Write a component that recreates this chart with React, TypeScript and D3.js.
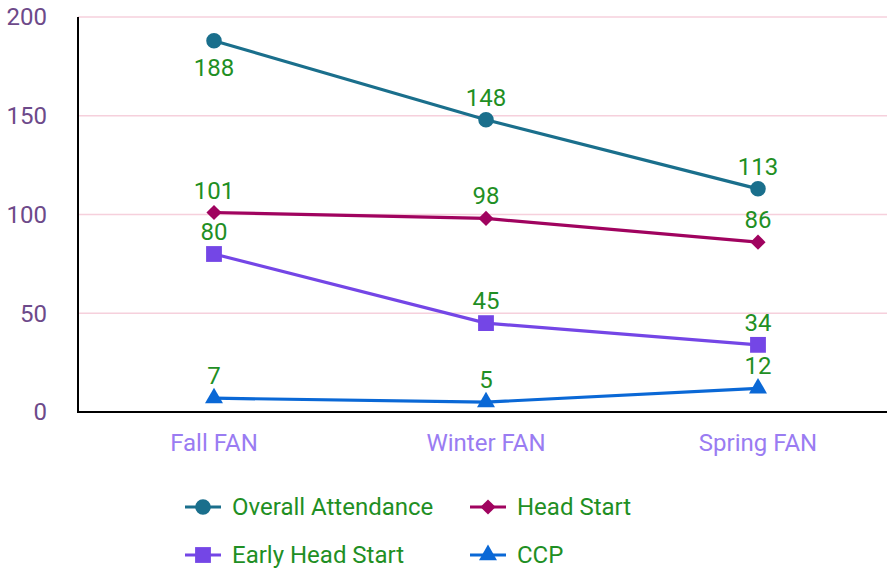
import React from "react";
import * as d3 from "d3";

const categories = ["Fall FAN", "Winter FAN", "Spring FAN"];
const seriesNames = ["Overall Attendance", "Head Start", "Early Head Start", "CCP"];
const overall = [188, 148, 113];
const headStart = [101, 98, 86];
const earlyHeadStart = [80, 45, 34];
const ccp = [7, 5, 12];
const yTicks = [0, 50, 100, 150, 200];

const W = 887, H = 569;
const left = 78, top = 17, bottom = 412;

const colors = ["#1a6f8c", "#a0035f", "#7446e6", "#0a68d6"];
const shapes = [d3.symbolCircle, d3.symbolSquare, d3.symbolSquare, d3.symbolTriangle];
const sizes = [190, 115, 250, 140];
const rotations = [0, 45, 0, 0];
// label placement: below the point or above it
const labelBelow = [[true, false, false], [false, false, false], [false, false, false], [false, false, false]];

export default function App() {
  const x = d3.scalePoint<string>().domain(categories).range([left, 894]).padding(0.5);
  const y = d3.scaleLinear().domain([0, 200]).range([bottom, top]);
  const data = [overall, headStart, earlyHeadStart, ccp];
  const line = d3.line<number>().x((_, i) => x(categories[i])!).y((d) => y(d));
  const font = "Roboto, sans-serif";
  const fs = 24;
  const legendPos = [
    [185, 507], [470, 507], [185, 555], [470, 555],
  ];
  const marker = (s: number, tx: number, ty: number) => (
    <path
      d={d3.symbol().type(shapes[s]).size(sizes[s])()!}
      transform={`translate(${tx},${ty}) rotate(${rotations[s]})`}
      fill={colors[s]}
    />
  );
  return (
    <svg width={W} height={H} style={{ position: "absolute", left: 0, top: 0 }} fontFamily={font}>
      {yTicks.map((t) => (
        <g key={t}>
          {t > 0 && <line x1={left} x2={W} y1={y(t)} y2={y(t)} stroke="#f6d0dc" strokeWidth={1.5} />}
          <text x={47} y={y(t)} dy="0.35em" textAnchor="end" fontSize={fs} fill="#6d4a8a">{t}</text>
        </g>
      ))}
      <line x1={left} x2={left} y1={top} y2={bottom} stroke="#000" strokeWidth={2} />
      <line x1={left - 1} x2={W} y1={bottom} y2={bottom} stroke="#000" strokeWidth={2} />
      {categories.map((c) => (
        <text key={c} x={x(c)} y={451} textAnchor="middle" fontSize={fs} fill="#9a7cf2">{c}</text>
      ))}
      {data.map((vals, s) => (
        <g key={s}>
          <path d={line(vals)!} fill="none" stroke={colors[s]} strokeWidth={3.2} />
          {vals.map((v, i) => (
            <g key={i}>
              {marker(s, x(categories[i])!, y(v))}
              <text x={x(categories[i])} y={labelBelow[s][i] ? y(v) + 35 : y(v) - 14} textAnchor="middle" fontSize={fs} fill="#1f8f24">{v}</text>
            </g>
          ))}
        </g>
      ))}
      {seriesNames.map((n, s) => (
        <g key={n} transform={`translate(${legendPos[s][0]},${legendPos[s][1]})`}>
          <line x1={0} x2={36} y1={0} y2={0} stroke={colors[s]} strokeWidth={3.2} />
          {marker(s, 18, 0)}
          <text x={47} y={0} dy="0.35em" fontSize={fs} fill="#1f8f24">{n}</text>
        </g>
      ))}
    </svg>
  );
}
